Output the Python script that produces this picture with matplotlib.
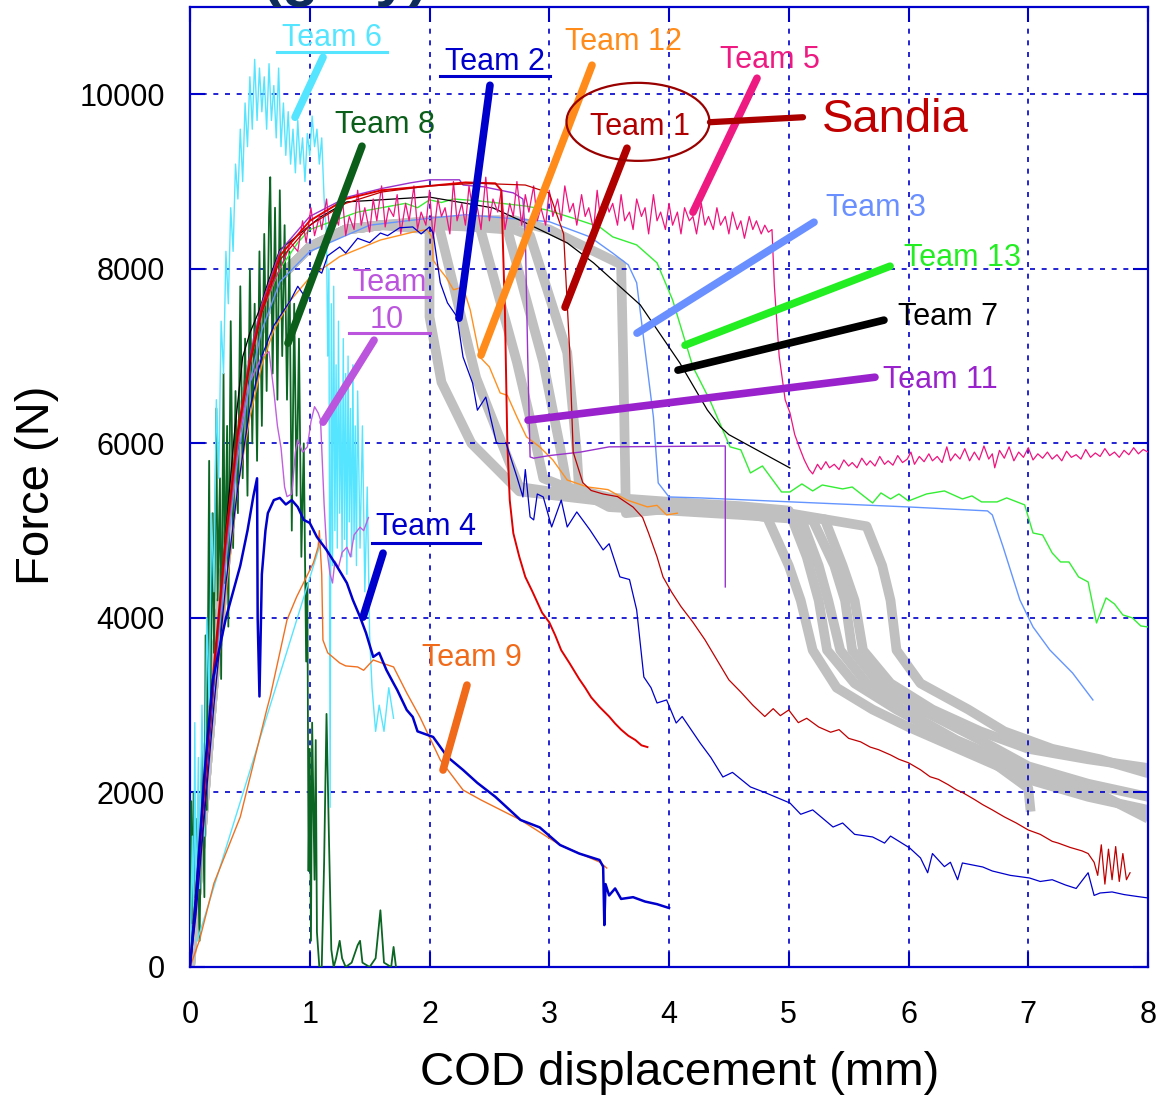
import numpy as np
import matplotlib.pyplot as plt
from matplotlib.patches import Ellipse

plt.rcParams['font.family'] = ['Liberation Sans', 'DejaVu Sans']

# ---- curves: (COD displacement mm, force N) ----
gray_rise = [(0, 0), (0.1, 1600), (0.2, 3300), (0.3, 4700), (0.4, 5900), (0.5, 6800),
             (0.6, 7400), (0.75, 7900), (1.0, 8250), (1.3, 8450), (1.6, 8500)]
gray_a = gray_rise + [(2.0, 8450), (2.0, 7450), (2.1, 6700), (2.35, 6000), (2.75, 5450), (3.5, 5330),
                      (4.0, 5280), (4.5, 5230), (4.82, 5150), (5.0, 4600), (5.1, 4200), (5.2, 3630),
                      (5.4, 3200), (5.7, 2950), (6.0, 2750), (6.5, 2450), (7.0, 2150), (7.5, 1950), (8.0, 1800)]
gray_b = gray_rise + [(2.08, 8480), (2.39, 6750), (2.61, 5980), (2.75, 5500), (3.5, 5350), (4.0, 5300),
                      (4.6, 5250), (5.1, 5150), (5.25, 4600), (5.33, 4200), (5.43, 3630), (5.65, 3250),
                      (5.95, 2950), (6.4, 2600), (7.0, 2250), (7.5, 2050), (8.0, 1700)]
gray_c = gray_rise + [(2.0, 8500), (2.42, 8480), (2.73, 6930), (2.86, 6170), (2.95, 5600), (3.5, 5300),
                      (4.0, 5260), (4.6, 5220), (5.3, 5130), (5.45, 4600), (5.55, 4200), (5.62, 3630),
                      (5.85, 3250), (6.2, 2950), (6.6, 2700), (7.0, 2500), (7.5, 2380), (8.0, 2280)]
gray_d = gray_rise + [(2.0, 8520), (2.65, 8450), (2.95, 6930), (3.09, 5960), (3.15, 5500), (3.5, 5380),
                      (4.0, 5330), (4.6, 5280), (5.0, 5230), (5.15, 4700), (5.25, 4200), (5.32, 3630),
                      (5.55, 3250), (5.9, 2950), (6.3, 2650), (6.7, 2350), (7.0, 2050), (7.02, 1780)]
gray_e = gray_rise + [(2.0, 8540), (2.5, 8560), (2.84, 8380), (3.15, 7040), (3.23, 5900), (3.25, 5450),
                      (3.5, 5270), (4.0, 5230), (4.6, 5180), (5.2, 5120), (5.38, 4600), (5.47, 4200),
                      (5.53, 3630), (5.75, 3250), (6.1, 2950), (6.6, 2600), (7.0, 2300), (7.5, 2100), (8.0, 1950)]
gray_f = gray_rise + [(2.0, 8550), (2.7, 8560), (3.0, 8450), (3.3, 8250), (3.6, 8050), (3.62, 6800),
                      (3.64, 5200), (4.0, 5250), (4.6, 5230), (5.0, 5200), (5.65, 5050), (5.78, 4600),
                      (5.85, 4200), (5.9, 3630), (6.1, 3250), (6.5, 2950), (6.8, 2700), (7.2, 2500),
                      (7.6, 2380), (8.0, 2220)]

team1 = [(0, 0), (0.05, 800), (0.1, 1700), (0.2, 3400), (0.3, 4900), (0.4, 6100), (0.5, 6900),
         (0.6, 7500), (0.75, 8100), (1.0, 8500), (1.3, 8750), (1.6, 8880), (2.0, 8950), (2.4, 8980),
         (2.8, 8960), (3.0, 8870), (3.12, 8400), (3.17, 7070), (3.2, 5900), (3.28, 5550), (3.35, 5460),
         (3.45, 5420), (3.57, 5390), (3.7, 5270), (3.78, 5150), (3.83, 4970), (3.9, 4700), (3.95, 4470),
         (4.02, 4300), (4.1, 4130), (4.2, 3950), (4.3, 3750), (4.4, 3520), (4.5, 3290), (4.6, 3150),
         (4.7, 3000), (4.8, 2870), (4.87, 2960), (4.93, 2880), (5.0, 2945), (5.08, 2800), (5.15, 2850),
         (5.25, 2750), (5.35, 2690), (5.42, 2720), (5.5, 2620), (5.6, 2580), (5.68, 2520), (5.75, 2490),
         (5.85, 2430), (5.92, 2380), (6.0, 2340), (6.1, 2260), (6.18, 2180), (6.25, 2150), (6.33, 2090),
         (6.4, 2030), (6.45, 2000), (6.55, 1920), (6.62, 1860), (6.7, 1800), (6.8, 1720), (6.9, 1650),
         (7.0, 1570), (7.1, 1520), (7.2, 1440), (7.25, 1420), (7.35, 1370), (7.45, 1330), (7.5, 1300),
         (7.55, 1200), (7.58, 1050), (7.61, 1400), (7.64, 950), (7.67, 1350), (7.7, 1000),
         (7.73, 1380), (7.76, 980), (7.79, 1300), (7.82, 1000), (7.85, 1080)]
red2 = [(0, 0), (0.05, 850), (0.1, 1750), (0.2, 3450), (0.3, 4950), (0.4, 6150), (0.5, 6950),
        (0.6, 7550), (0.75, 8150), (1.0, 8550), (1.3, 8800), (1.6, 8900), (2.0, 8950), (2.3, 8990),
        (2.55, 8980), (2.6, 8900), (2.63, 7500), (2.65, 6000), (2.67, 5350), (2.7, 4970), (2.75, 4700),
        (2.8, 4470), (2.86, 4300), (2.94, 4060), (3.0, 3950), (3.05, 3800), (3.1, 3630), (3.17, 3480),
        (3.25, 3300), (3.3, 3200), (3.35, 3090), (3.42, 2980), (3.5, 2870), (3.55, 2790), (3.6, 2720),
        (3.66, 2650), (3.72, 2600), (3.77, 2540), (3.82, 2520)]
team5 = [(0, 0), (0.05, 700), (0.1, 1600), (0.2, 3300), (0.3, 4800), (0.4, 6000), (0.5, 6900),
         (0.6, 7500), (0.7, 7850), (0.8, 8150), (0.84, 8300),
         (0.9, 8200), (0.94, 8550), (0.97, 8300), (1.01, 8700), (1.04, 8380), (1.08, 8600), (1.1, 8450),
         (1.14, 8800), (1.17, 8400), (1.2, 8650), (1.24, 8500), (1.27, 8850), (1.3, 8380), (1.33, 8600),
         (1.37, 8450), (1.4, 8900), (1.43, 8500), (1.46, 8700), (1.5, 8420), (1.53, 8800), (1.56, 8550),
         (1.6, 8950), (1.63, 8480), (1.66, 8700), (1.7, 8600), (1.73, 8850), (1.76, 8400), (1.8, 8750),
         (1.83, 8550), (1.87, 8950), (1.9, 8450), (1.93, 8650), (1.97, 8500), (2.0, 8900), (2.03, 8350),
         (2.07, 8800), (2.1, 8600), (2.13, 8700), (2.17, 8400), (2.2, 9000), (2.23, 8550), (2.27, 8750),
         (2.3, 8500), (2.33, 8950), (2.37, 8600), (2.4, 8700), (2.43, 8450), (2.47, 9050), (2.5, 8550),
         (2.53, 8800), (2.57, 8650), (2.6, 8900), (2.63, 8450), (2.67, 8750), (2.7, 8600), (2.73, 9000),
         (2.77, 8500), (2.8, 8850), (2.83, 8650), (2.87, 8950), (2.9, 8550), (2.93, 8700), (2.97, 8500),
         (3.0, 8900), (3.03, 8600), (3.07, 8800), (3.1, 8550), (3.13, 8950), (3.17, 8650), (3.2, 8750),
         (3.23, 8500), (3.27, 8850), (3.3, 8600), (3.33, 8700), (3.37, 8450), (3.4, 8900), (3.43, 8550),
         (3.47, 8800), (3.5, 8650), (3.53, 8750), (3.57, 8500), (3.6, 8850), (3.63, 8550), (3.67, 8650),
         (3.7, 8450), (3.73, 8800), (3.77, 8600), (3.8, 8700), (3.83, 8400), (3.87, 8850), (3.9, 8550),
         (3.93, 8650), (3.97, 8450), (4.0, 8750), (4.03, 8500), (4.07, 8650), (4.1, 8400), (4.13, 8700),
         (4.17, 8550), (4.2, 8600), (4.23, 8400), (4.27, 8750), (4.3, 8500), (4.33, 8600), (4.37, 8450),
         (4.4, 8700), (4.43, 8500), (4.47, 8600), (4.5, 8400), (4.53, 8650), (4.57, 8450), (4.6, 8550),
         (4.63, 8350), (4.67, 8600), (4.7, 8450), (4.73, 8550), (4.77, 8400), (4.8, 8500), (4.83, 8420),
         (4.86, 8450), (4.88, 7800), (4.92, 7000), (4.97, 6500), (5.01, 6350), (5.05, 6100), (5.09, 5950),
         (5.13, 5810), (5.17, 5700), (5.2, 5650), (5.24, 5760), (5.27, 5700), (5.31, 5790), (5.34, 5720),
         (5.38, 5760), (5.42, 5700), (5.46, 5810), (5.5, 5740), (5.53, 5780), (5.57, 5720), (5.61, 5830),
         (5.65, 5750), (5.68, 5800), (5.72, 5740), (5.76, 5850), (5.8, 5760), (5.83, 5800), (5.87, 5750),
         (5.91, 5860), (5.95, 5780), (5.99, 5820), (6.02, 5900), (6.05, 5760), (6.09, 5850), (6.13, 5790),
         (6.17, 5880), (6.2, 5800), (6.24, 5850), (6.28, 5780), (6.32, 5960), (6.35, 5800), (6.39, 5880),
         (6.43, 5820), (6.47, 5940), (6.51, 5800), (6.55, 5900), (6.59, 5810), (6.63, 5970), (6.67, 5820),
         (6.7, 5880), (6.72, 5720), (6.76, 5920), (6.8, 5830), (6.84, 5960), (6.88, 5800), (6.92, 5900),
         (6.96, 5840), (7.0, 5950), (7.04, 5810), (7.08, 5880), (7.12, 5830), (7.16, 5900), (7.2, 5820),
         (7.24, 5870), (7.28, 5800), (7.32, 5910), (7.36, 5840), (7.4, 5870), (7.44, 5820), (7.48, 5930),
         (7.52, 5840), (7.56, 5890), (7.6, 5850), (7.64, 5940), (7.68, 5860), (7.72, 5900), (7.76, 5840),
         (7.8, 5920), (7.84, 5870), (7.88, 5950), (7.92, 5880), (7.96, 5930), (8.0, 5900)]
team13 = [(0, 0), (0.05, 700), (0.1, 1600), (0.2, 3300), (0.3, 4800), (0.4, 6000), (0.5, 6900),
          (0.6, 7500), (0.75, 8000), (0.9, 8300), (1.0, 8450), (1.2, 8550), (1.4, 8650), (1.6, 8700),
          (1.8, 8750), (1.9, 8700), (2.0, 8790), (2.1, 8760), (2.2, 8800), (2.4, 8780), (2.6, 8750),
          (2.8, 8720), (2.98, 8675), (3.2, 8580), (3.42, 8480), (3.53, 8366), (3.73, 8274), (3.9, 8068),
          (4.03, 7644), (4.2, 6876), (4.34, 6498), (4.51, 5960), (4.6, 5925), (4.68, 5661), (4.78, 5741),
          (4.94, 5443), (5.01, 5443), (5.11, 5535), (5.2, 5455), (5.28, 5523), (5.45, 5478), (5.53, 5500),
          (5.7, 5317), (5.77, 5432), (5.85, 5363), (5.92, 5420), (6.0, 5340), (6.15, 5420), (6.3, 5455),
          (6.45, 5363), (6.53, 5398), (6.61, 5329), (6.74, 5329), (6.82, 5375), (6.97, 5295), (7.04, 4973),
          (7.12, 4950), (7.2, 4744), (7.27, 4641), (7.34, 4641), (7.42, 4470), (7.5, 4412), (7.57, 3942),
          (7.65, 4229), (7.72, 4160), (7.79, 4034), (7.87, 4000), (7.94, 3908), (8.0, 3896)]
team3 = [(0, 0), (0.05, 650), (0.1, 1500), (0.2, 3200), (0.3, 4650), (0.4, 5850), (0.5, 6700),
         (0.6, 7300), (0.75, 7850), (1.0, 8200), (1.5, 8500), (2.0, 8580), (2.3, 8620), (3.0, 8540),
         (3.34, 8366), (3.53, 8180), (3.66, 8045), (3.73, 7840), (3.87, 6300), (3.91, 5546), (4.0, 5386),
         (4.26, 5375), (5.01, 5330), (5.99, 5272), (6.66, 5226), (6.7, 5180), (6.79, 4813), (6.93, 4206),
         (7.04, 3896), (7.18, 3633), (7.37, 3369), (7.54, 3060)]
team7 = [(0, 0), (0.1, 1500), (0.22, 3630), (0.3, 5000), (0.37, 6100), (0.44, 6990), (0.5, 7265),
         (0.58, 7530), (0.65, 7840), (0.75, 8217), (1.09, 8595), (1.31, 8767), (1.99, 8824), (2.53, 8698),
         (2.84, 8503), (3.15, 8297), (3.37, 8068), (3.76, 7587), (4.09, 6922), (4.32, 6383), (4.43, 6188),
         (4.5, 6100), (5.01, 5718)]
team11 = [(0, 0), (0.05, 800), (0.1, 1700), (0.2, 3400), (0.3, 4900), (0.4, 6100), (0.5, 7000),
          (0.6, 7600), (0.75, 8200), (1.0, 8600), (1.31, 8820), (1.6, 8920), (1.84, 8985), (2.0, 9020),
          (2.25, 9020), (2.28, 8960), (2.45, 8940), (2.7, 8870), (2.78, 8800), (2.8, 8400), (2.82, 7000),
          (2.84, 5845), (2.87, 5830), (3.0, 5860), (3.26, 5900), (3.5, 5960), (4.47, 5970), (4.47, 4355)]
team10 = [(0, 0), (0.05, 700), (0.1, 1600), (0.2, 3300), (0.3, 4800), (0.4, 6000), (0.5, 6700),
          (0.6, 7000), (0.66, 7050), (0.7, 6600), (0.73, 6200), (0.76, 5950), (0.79, 5500), (0.81, 5390),
          (0.85, 5420), (0.88, 5900), (0.9, 6040), (0.94, 5900), (0.98, 5960), (1.01, 6250), (1.04, 6420),
          (1.07, 6350), (1.09, 6270), (1.12, 5300), (1.14, 4810), (1.17, 4500), (1.19, 4400), (1.21, 4650),
          (1.24, 4580), (1.27, 4750), (1.31, 4810), (1.34, 4700), (1.37, 4950), (1.42, 5040), (1.45, 5000),
          (1.49, 5150)]
team12 = [(0, 0), (0.05, 600), (0.1, 1400), (0.2, 3000), (0.3, 4300), (0.4, 5500), (0.5, 6300),
          (0.6, 6900), (0.7, 7300), (0.84, 7640), (1.0, 7900), (1.25, 8140), (1.59, 8330), (1.86, 8420),
          (1.98, 8450), (2.02, 8366), (2.03, 8100), (2.07, 8022), (2.14, 7900), (2.2, 7760), (2.28, 7790),
          (2.34, 7530), (2.42, 6990), (2.5, 6876), (2.59, 6578), (2.65, 6550), (2.73, 6303), (2.81, 6074),
          (2.92, 5960), (3.03, 5810), (3.15, 5580), (3.32, 5500), (3.49, 5470), (3.6, 5386), (3.65, 5350),
          (3.82, 5272), (3.9, 5290), (3.98, 5180), (4.07, 5200)]
team2 = [(0, 0), (0.05, 600), (0.1, 1400), (0.2, 3000), (0.3, 4400), (0.4, 5500), (0.5, 6400),
         (0.6, 7000), (0.7, 7350), (0.84, 7640), (0.9, 7800), (0.95, 7700), (1.03, 8020), (1.1, 7950),
         (1.15, 8150), (1.25, 8250), (1.3, 8180), (1.4, 8350), (1.5, 8300), (1.59, 8410), (1.65, 8380),
         (1.75, 8470), (1.86, 8480), (1.93, 8400), (2.0, 8480), (2.03, 8410), (2.09, 7840), (2.15, 7610),
         (2.23, 7450), (2.28, 6990), (2.36, 6690), (2.4, 6380), (2.47, 6530), (2.56, 6000), (2.64, 6000),
         (2.73, 5615), (2.78, 5386), (2.8, 5700), (2.84, 5157), (2.87, 5123), (2.9, 5420), (2.95, 5386),
         (3.02, 5042), (3.1, 5350), (3.15, 5042), (3.23, 5214), (3.34, 5008), (3.45, 4779), (3.5, 4850),
         (3.59, 4470), (3.67, 4440), (3.73, 4091), (3.79, 3323), (3.85, 3200), (3.9, 3025), (3.98, 3060),
         (4.06, 2796), (4.11, 2870), (4.26, 2567), (4.35, 2400), (4.45, 2177), (4.53, 2230), (4.68, 2063),
         (4.8, 2000), (5.01, 1879), (5.1, 1750), (5.2, 1800), (5.37, 1604), (5.45, 1650), (5.55, 1520),
         (5.7, 1490), (5.8, 1420), (5.85, 1500), (6.01, 1364), (6.1, 1250), (6.16, 1080), (6.2, 1300),
         (6.3, 1150), (6.35, 1200), (6.41, 1000), (6.45, 1192), (6.62, 1146), (6.7, 1100), (6.85, 1050),
         (7.01, 1020), (7.1, 980), (7.2, 1000), (7.31, 940), (7.4, 900), (7.5, 1080), (7.55, 820),
         (7.6, 848), (7.7, 860), (7.8, 830), (7.9, 810), (8.0, 791)]
team4 = [(0, 0), (0.05, 800), (0.12, 2200), (0.19, 3290), (0.3, 4000), (0.42, 4600), (0.48, 5000),
         (0.53, 5400), (0.56, 5600), (0.565, 4000), (0.58, 3100), (0.6, 4500), (0.63, 5000), (0.65, 5200),
         (0.7, 5350), (0.75, 5375), (0.8, 5300), (0.85, 5350), (0.9, 5270), (0.95, 5123), (1.0, 5088),
         (1.06, 4927), (1.14, 4779), (1.23, 4584), (1.31, 4400), (1.36, 4206), (1.42, 4011), (1.47, 3827),
         (1.53, 3553), (1.58, 3600), (1.64, 3404), (1.7, 3250), (1.73, 3175), (1.81, 2945), (1.86, 2865),
         (1.9, 2700), (2.03, 2636), (2.15, 2407), (2.28, 2258), (2.4, 2109), (2.55, 1950), (2.76, 1685),
         (2.92, 1600), (3.09, 1398), (3.25, 1300), (3.42, 1226), (3.45, 1150), (3.46, 480), (3.47, 950),
         (3.5, 820), (3.55, 900), (3.6, 780), (3.7, 800), (3.8, 750), (3.9, 720), (4.0, 676)]
team9 = [(0, 0), (0.08, 310), (0.2, 960), (0.42, 1720), (0.64, 2945), (0.67, 3100), (0.81, 3977),
         (0.89, 4240), (1.03, 4630), (1.07, 4813), (1.08, 5000), (1.1, 4500), (1.11, 3747), (1.15, 3600),
         (1.25, 3484), (1.3, 3450), (1.4, 3438), (1.45, 3400), (1.53, 3518), (1.6, 3484), (1.7, 3438),
         (1.81, 3140), (1.92, 2865), (2.09, 2372), (2.28, 2028), (2.43, 1914), (2.76, 1685), (3.09, 1398),
         (3.42, 1203), (3.48, 1134)]
team6 = [(0, 0), (0.02, 1500), (0.03, 300), (0.04, 2800), (0.05, 600), (0.07, 2400), (0.08, 900),
         (0.1, 3000), (0.12, 1500), (0.14, 4000), (0.16, 3000), (0.18, 5200), (0.2, 4300), (0.22, 6500),
         (0.24, 5600), (0.26, 7400), (0.28, 6800), (0.3, 8200), (0.32, 7600), (0.34, 8700), (0.36, 8200),
         (0.38, 9200), (0.4, 8800), (0.42, 9600), (0.44, 9000), (0.46, 9900), (0.48, 9400), (0.5, 10200),
         (0.52, 9600), (0.54, 10400), (0.56, 9700), (0.58, 10300), (0.6, 9800), (0.62, 10200), (0.64, 9600),
         (0.66, 10350), (0.68, 9700), (0.7, 10100), (0.72, 9500), (0.74, 10300), (0.76, 9400), (0.78, 9900),
         (0.8, 9300), (0.82, 9800), (0.84, 9200), (0.86, 9600), (0.88, 9100), (0.9, 9700), (0.92, 9200),
         (0.94, 9500), (0.96, 9000), (0.98, 9550), (1.0, 9300), (1.02, 9750), (1.04, 9400), (1.06, 9600),
         (1.08, 9200), (1.1, 9500), (1.12, 8800), (1.14, 8400), (1.15, 7000), (1.16, 8000), (1.17, 1830),
         (1.18, 7600), (1.19, 4600), (1.2, 7800), (1.21, 5000), (1.22, 6900), (1.23, 4800), (1.24, 7400),
         (1.25, 5200), (1.26, 6600), (1.27, 4700), (1.28, 7200), (1.29, 4900), (1.3, 6800), (1.31, 4500),
         (1.32, 7000), (1.33, 5100), (1.34, 6400), (1.35, 4700), (1.36, 6900), (1.37, 4900), (1.38, 6200),
         (1.39, 4600), (1.4, 6600), (1.42, 4800), (1.44, 6200), (1.46, 4300), (1.48, 5500), (1.5, 3800),
         (1.52, 3200), (1.55, 2700), (1.58, 3000), (1.62, 2700), (1.66, 3200), (1.7, 2850)]
team6_ramp = [(0.06, 300), (1.1, 4900)]
team8 = [(0, 0), (0.01, 1900), (0.02, 500), (0.03, 2000), (0.04, 800), (0.06, 1700), (0.08, 300),
         (0.1, 2500), (0.12, 800), (0.13, 3800), (0.14, 1800), (0.16, 5800), (0.17, 3000), (0.19, 5200),
         (0.2, 3600), (0.22, 6400), (0.23, 4200), (0.25, 5600), (0.26, 3300), (0.28, 6800), (0.29, 4400),
         (0.31, 6200), (0.32, 3900), (0.34, 7400), (0.36, 4800), (0.38, 6600), (0.4, 5200), (0.42, 7800),
         (0.44, 5600), (0.46, 7200), (0.48, 5400), (0.5, 8000), (0.52, 6000), (0.54, 7600), (0.56, 5800),
         (0.58, 8200), (0.6, 6200), (0.62, 8400), (0.64, 6600), (0.66, 8600), (0.67, 9050), (0.69, 6800),
         (0.71, 8700), (0.73, 6500), (0.75, 8900), (0.77, 7000), (0.79, 8500), (0.81, 6500), (0.83, 8200),
         (0.85, 5000), (0.87, 7600), (0.89, 5400), (0.91, 7200), (0.93, 4700), (0.95, 6000), (0.97, 3500),
         (0.98, 4400), (0.99, 1100), (1.0, 2500), (1.01, 300), (1.02, 2800), (1.04, 1000), (1.05, 2600),
         (1.06, 400), (1.08, 0), (1.1, 0), (1.12, 1200), (1.14, 2900), (1.16, 1500), (1.18, 200), (1.2, 0),
         (1.22, 100), (1.25, 300), (1.27, 100), (1.3, 0), (1.35, 50), (1.4, 250), (1.42, 300), (1.44, 50),
         (1.5, 0), (1.55, 100), (1.59, 650), (1.62, 50), (1.68, 0), (1.7, 230), (1.72, 0)]

gray_curves = [gray_a, gray_b, gray_c, gray_d, gray_e, gray_f]
team_curves = [
    (team8, '#0b6623', 1.3),
    (team6, '#55e5ff', 1.0),
    (team6_ramp, '#55e5ff', 1.0),
    (team10, '#c060e0', 1.0),
    (team9, '#f07020', 1.0),
    (team12, '#ff9020', 1.0),
    (team3, '#6495ff', 1.0),
    (team13, '#33ee33', 1.0),
    (team7, '#000000', 0.9),
    (team11, '#9933cc', 1.0),
    (team5, '#f0137f', 0.9),
    (red2, '#e00000', 1.4),
    (team1, '#c00000', 0.9),
    (team2, '#0000cc', 0.9),
    (team4, '#0000cc', 1.8),
]

# ---- callouts: text, colour, text centre, pointer start, pointer end, underline ----
callouts = [
    ('Team 6', '#55e5ff', (1.186, 10646), (1.111, 10424), (0.877, 9737), (0.727, 1.645, 10482)),
    ('Team 8', '#0b5e1a', (1.628, 9646), (1.436, 9405), (0.818, 7148), None),
    ('Team 2', '#0000cc', (2.547, 10367), (2.505, 10103), (2.246, 7434), (2.088, 3.006, 10207)),
    ('Team 12', '#ff8c1a', (3.616, 10596), (3.357, 10333), (2.430, 7011), None),
    ('Team 5', '#ee1a82', (4.843, 10390), (4.735, 10184), (4.200, 8649), None),
    ('Team 1', '#b00000', (3.758, 9622), (3.649, 9382), (3.132, 7560), None),
    ('Team 3', '#6a8fff', (5.729, 8695), (5.211, 8534), (3.733, 7263), None),
    ('Team 13', '#22ee22', (6.447, 8122), (5.846, 8030), (4.134, 7125), None),
    ('Team 7', '#000000', (6.330, 7446), (5.795, 7412), (4.075, 6839), None),
    ('Team 11', '#9922cc', (6.263, 6724), (5.720, 6758), (2.823, 6266), None),
    ('Team 4', '#0000cc', (1.971, 5040), (1.612, 4742), (1.445, 4009), (1.52, 2.42, 4857)),
    ('Team 9', '#f06a1a', (2.355, 3540), (2.313, 3230), (2.113, 2257), None),
]

fig = plt.figure(figsize=(11.61, 10.99), dpi=100)
ax = fig.add_axes([190 / 1161, 1 - 967 / 1099, 958 / 1161, 960 / 1099])

for g in gray_curves:
    gx, gy = np.array(g).T
    ax.plot(gx, gy, color='#c0c0c0', lw=7, solid_joinstyle='round', solid_capstyle='butt', zorder=1)

for data, col, lw in team_curves:
    dx, dy = np.array(data).T
    ax.plot(dx, dy, color=col, lw=lw, zorder=3)

for text, col, tpos, p0, p1, uline in callouts:
    ax.annotate('', xy=p1, xytext=p0,
                arrowprops=dict(arrowstyle='-', color=col, lw=5.5, shrinkA=0, shrinkB=0), zorder=5)
    ax.text(tpos[0], tpos[1], text, color=col, fontsize=22, ha='center', va='center', zorder=6)
    if uline:
        ax.plot([uline[0], uline[1]], [uline[2], uline[2]], color=col, lw=2.2, zorder=6)

# Team 10 label is split over two underlined lines
ax.annotate('', xy=(1.111, 6243), xytext=(1.537, 7182),
            arrowprops=dict(arrowstyle='-', color='#bb55dd', lw=5.5, shrinkA=0, shrinkB=0), zorder=5)
ax.text(1.67, 7835, 'Team', color='#bb55dd', fontsize=22, ha='center', va='center', zorder=6)
ax.text(1.645, 7412, '10', color='#bb55dd', fontsize=22, ha='center', va='center', zorder=6)
ax.plot([1.328, 2.004], [7675, 7675], color='#bb55dd', lw=2.2, zorder=6)
ax.plot([1.328, 2.004], [7262, 7262], color='#bb55dd', lw=2.2, zorder=6)

# Sandia ellipse round Team 1
ax.add_patch(Ellipse((3.741, 9684), 1.194, 894, fill=False, ec='#990000', lw=1.6, zorder=6))
ax.annotate('', xy=(5.119, 9737), xytext=(4.342, 9680),
            arrowprops=dict(arrowstyle='-', color='#aa0000', lw=4.5, shrinkA=0, shrinkB=0), zorder=5)
ax.text(5.887, 9703, 'Sandia', color='#c00000', fontsize=34, ha='center', va='center', zorder=6)

ax.set_xlim(0, 8)
ax.set_ylim(0, 11000)
ax.set_xticks(range(0, 9))
ax.set_yticks(range(0, 10001, 2000))
ax.grid(True, color='#0000cc', linestyle=(0, (3, 4)), lw=1.2)
ax.set_axisbelow(False)
for s in ax.spines.values():
    s.set_color('#0000cc')
    s.set_linewidth(1.6)
ax.tick_params(direction='in', length=11, width=1.5, color='#0000cc', top=True, right=True,
               labelsize=22)
ax.tick_params(axis='x', pad=24)
ax.tick_params(axis='y', pad=18)

fig.text(0.5857, 0.0237, 'COD displacement (mm)', fontsize=34, ha='center', va='center')
fig.text(0.0319, 0.5587, 'Force (N)', fontsize=34, rotation=90, ha='center', va='center')
# heading sits above the top edge in the original, only its descenders show
fig.text(262 / 1161, 1.0045, '(gray)', fontsize=43, fontweight='bold', color='#0f2d5a',
         ha='left', va='baseline')

fig.savefig('out.png', dpi=100)
